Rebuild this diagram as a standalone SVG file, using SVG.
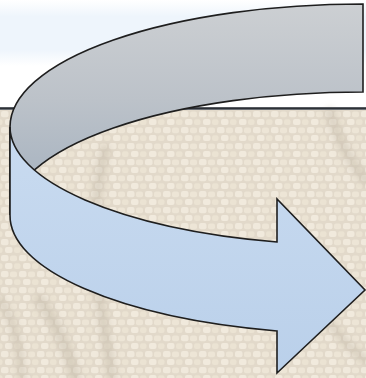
<svg xmlns="http://www.w3.org/2000/svg" width="366" height="378" viewBox="0 0 366 378">
  <style>
    .edge { stroke: #1e1e1e; stroke-width: 1.6; stroke-linejoin: miter; }
    .streak { fill: none; stroke: #b8ac9c; stroke-linecap: round; opacity: 0.35; }
  </style>
  <defs>
    <linearGradient id="band" x1="0" y1="0" x2="0" y2="1">
      <stop offset="0" stop-color="#ffffff"/>
      <stop offset="0.15" stop-color="#eef5fc"/>
      <stop offset="0.45" stop-color="#eef5fc"/>
      <stop offset="0.6" stop-color="#ffffff"/>
    </linearGradient>
    <linearGradient id="rule" x1="0" y1="0" x2="0" y2="1">
      <stop offset="0" stop-color="#6a6e74"/>
      <stop offset="0.5" stop-color="#2c3036"/>
      <stop offset="1" stop-color="#8a8e94"/>
    </linearGradient>
    <pattern id="tiles" x="0" y="110" width="18" height="16" patternUnits="userSpaceOnUse">
      <rect width="18" height="16" fill="#e2d9ca"/>
      <rect x="1" y="1" width="7.5" height="6.2" rx="2" fill="#f0e9dc"/>
      <rect x="10" y="1.5" width="7" height="5.8" rx="2" fill="#ede5d6"/>
      <rect x="5" y="9" width="7.5" height="6" rx="2" fill="#f1eadd"/>
      <rect x="14" y="9.2" width="6.5" height="5.8" rx="2" fill="#ebe3d3"/>
      <rect x="-4" y="9.2" width="6.5" height="5.8" rx="2" fill="#ebe3d3"/>
    </pattern>
    <linearGradient id="grayFill" x1="0" y1="0" x2="0" y2="200" gradientUnits="userSpaceOnUse">
      <stop offset="0" stop-color="#cdd0d3"/>
      <stop offset="0.5" stop-color="#bcc2c9"/>
      <stop offset="1" stop-color="#a4b1bf"/>
    </linearGradient>
    <linearGradient id="blueFill" x1="0" y1="127" x2="0" y2="373" gradientUnits="userSpaceOnUse">
      <stop offset="0" stop-color="#c9dbf0"/>
      <stop offset="1" stop-color="#bad0ea"/>
    </linearGradient>
    <filter id="soft" x="-20%" y="-20%" width="140%" height="140%">
      <feGaussianBlur stdDeviation="3"/>
    </filter>
  </defs>

  <!-- background -->
  <rect x="0" y="0" width="366" height="110" fill="#ffffff"/>
  <rect x="0" y="0" width="366" height="110" fill="url(#band)"/>
  <rect x="0" y="110" width="366" height="268" fill="url(#tiles)"/>
  <g filter="url(#soft)">
    <path class="streak" stroke-width="10" d="M105,150 C95,190 92,240 100,300 C104,330 110,360 112,378"/>
    <path class="streak" stroke-width="12" d="M40,300 C60,330 70,355 75,378"/>
    <path class="streak" stroke-width="10" d="M330,112 C338,140 352,165 366,180"/>
    <path class="streak" stroke-width="8" d="M0,300 C15,320 20,350 22,378"/>
    <path class="streak" stroke-width="8" d="M320,310 C335,330 350,350 366,360"/>
  </g>
  <rect x="0" y="107" width="366" height="3" fill="url(#rule)"/>

  <!-- curved arrow: back band -->
  <g id="back-band">
    <path class="edge" fill="url(#grayFill)" d="M10,127 A353,123 0 0 1 363,4 L363,92 A353,123 0 0 0 10,215 Z"/>
  </g>
  <!-- curved arrow: front band with head -->
  <g id="front-arrow">
    <path class="edge" fill="url(#blueFill)" d="M10,127 A353,119 0 0 0 277,242 L277,199 L365,290 L277,373 L277,331 A353,119 0 0 1 10,215 Z"/>
  </g>
</svg>
